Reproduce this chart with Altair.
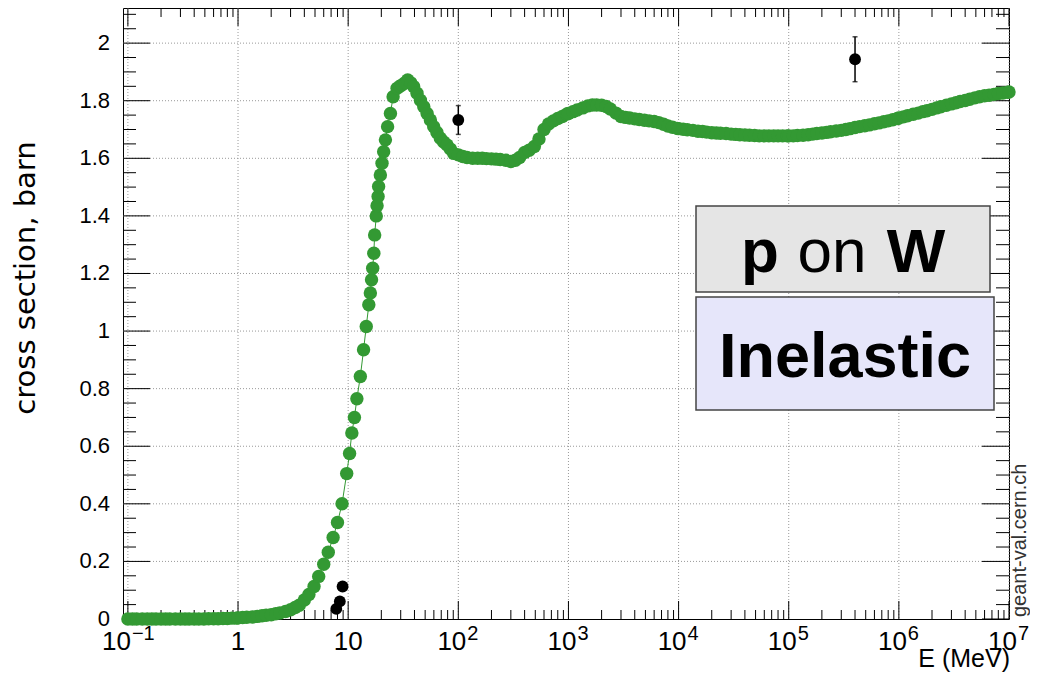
import altair as alt
import pandas as pd

# ---------------- data ----------------
# Geant4 model curve: energy (MeV) and inelastic cross section (barn)
g4_energy = [
    0.1, 0.11, 0.12, 0.135, 0.15, 0.165, 0.18, 0.2, 0.22, 0.24, 0.27, 0.3,
    0.33, 0.36, 0.4, 0.44, 0.49, 0.54, 0.6, 0.66, 0.73, 0.8, 0.88, 0.97,
    1.0, 1.1, 1.2, 1.35, 1.5, 1.65, 1.8, 2.0, 2.2, 2.4, 2.7, 3.0,
    3.3, 3.6, 4.0, 4.4, 4.9, 5.4, 6.0, 6.6, 7.3, 8.0, 8.8, 9.7,
    10.3, 10.8, 11.4, 12.0, 12.9, 13.8, 14.6, 15.4, 15.9, 16.3, 16.7, 17.1,
    17.4, 18.0, 18.3, 18.7, 18.9, 19.6, 20.3, 21.0, 21.8, 22.8, 24.2, 25.6,
    27.8, 29.5, 30.9, 32.8, 34.7, 37.0, 39.3, 42.2, 45.3, 48.6, 52.1, 55.8,
    59.8, 64.0, 68.7, 73.7, 79.1, 84.8, 90.9,
    100, 110, 120, 135, 150, 165, 180, 200, 220, 240, 270, 300,
    330, 360, 400, 440, 490, 540, 600, 660, 730, 800, 880, 970,
    1.0e3, 1.1e3, 1.2e3, 1.35e3, 1.5e3, 1.65e3, 1.8e3, 2.0e3, 2.2e3, 2.4e3, 2.7e3, 3.0e3,
    3.3e3, 3.6e3, 4.0e3, 4.4e3, 4.9e3, 5.4e3, 6.0e3, 6.6e3, 7.3e3, 8.0e3, 8.8e3, 9.7e3,
    1.0e4, 1.1e4, 1.2e4, 1.35e4, 1.5e4, 1.65e4, 1.8e4, 2.0e4, 2.2e4, 2.4e4, 2.7e4, 3.0e4,
    3.3e4, 3.6e4, 4.0e4, 4.4e4, 4.9e4, 5.4e4, 6.0e4, 6.6e4, 7.3e4, 8.0e4, 8.8e4, 9.7e4,
    1.0e5, 1.1e5, 1.2e5, 1.35e5, 1.5e5, 1.65e5, 1.8e5, 2.0e5, 2.2e5, 2.4e5, 2.7e5, 3.0e5,
    3.3e5, 3.6e5, 4.0e5, 4.4e5, 4.9e5, 5.4e5, 6.0e5, 6.6e5, 7.3e5, 8.0e5, 8.8e5, 9.7e5,
    1.0e6, 1.1e6, 1.2e6, 1.35e6, 1.5e6, 1.65e6, 1.8e6, 2.0e6, 2.2e6, 2.4e6, 2.7e6, 3.0e6,
    3.3e6, 3.6e6, 4.0e6, 4.4e6, 4.9e6, 5.4e6, 6.0e6, 6.6e6, 7.3e6, 8.0e6, 8.8e6, 9.7e6,
    1.0e7,
]
g4_xs = [
    0.0, 0.0, 0.0, 0.0, 0.0, 0.0, 0.0, 0.0, 0.0, 0.0, 0.0, 0.0,
    0.0, 0.0, 0.0, 0.0, 0.0, 0.001, 0.001, 0.001, 0.002, 0.002, 0.003, 0.003,
    0.004, 0.005, 0.006, 0.007, 0.009, 0.011, 0.013, 0.015, 0.018, 0.021, 0.026, 0.032,
    0.040, 0.048, 0.066, 0.085, 0.113, 0.148, 0.190, 0.232, 0.283, 0.335, 0.400, 0.505,
    0.575, 0.646, 0.700, 0.765, 0.842, 0.935, 1.016, 1.091, 1.132, 1.178, 1.218, 1.270,
    1.334, 1.400, 1.435, 1.467, 1.502, 1.542, 1.583, 1.623, 1.664, 1.710, 1.756, 1.814,
    1.843, 1.850, 1.855, 1.862, 1.872, 1.862, 1.849, 1.826, 1.802, 1.779, 1.756, 1.733,
    1.710, 1.690, 1.670, 1.657, 1.646, 1.632, 1.617,
    1.612, 1.606, 1.603, 1.600, 1.600, 1.600, 1.599, 1.598, 1.597, 1.596, 1.593, 1.589,
    1.593, 1.603, 1.620, 1.628, 1.641, 1.667, 1.700, 1.719, 1.730, 1.738, 1.745, 1.754,
    1.756, 1.762, 1.768, 1.775, 1.782, 1.785, 1.785, 1.784, 1.780, 1.771, 1.757, 1.745,
    1.742, 1.740, 1.737, 1.735, 1.732, 1.730, 1.728, 1.724, 1.718, 1.712, 1.708, 1.704,
    1.703, 1.701, 1.699, 1.697, 1.694, 1.693, 1.691, 1.689, 1.688, 1.687, 1.686, 1.684,
    1.683, 1.682, 1.681, 1.680, 1.679, 1.678, 1.678, 1.678, 1.678, 1.678, 1.678, 1.678,
    1.678, 1.678, 1.679, 1.680, 1.682, 1.684, 1.686, 1.688, 1.690, 1.692, 1.695, 1.697,
    1.700, 1.703, 1.707, 1.710, 1.713, 1.716, 1.720, 1.723, 1.727, 1.730, 1.734, 1.738,
    1.740, 1.744, 1.748, 1.753, 1.757, 1.762, 1.765, 1.770, 1.775, 1.779, 1.784, 1.789,
    1.793, 1.797, 1.801, 1.805, 1.810, 1.814, 1.817, 1.819, 1.822, 1.825, 1.827, 1.829,
    1.830,
]

# experimental points
exp_energy = [7.8, 8.4, 8.9, 100.0, 4.0e5]
exp_xs = [0.035, 0.061, 0.113, 1.733, 1.944]
exp_err = [0.003, 0.003, 0.003, 0.050, 0.078]

# axes
x_decades = [0.1, 1, 10, 100, 1e3, 1e4, 1e5, 1e6, 1e7]
x_minor = [m * d for d in [0.1, 1, 10, 100, 1e3, 1e4, 1e5, 1e6] for m in range(2, 10)]
y_major = [0.0, 0.2, 0.4, 0.6, 0.8, 1.0, 1.2, 1.4, 1.6, 1.8, 2.0]
y_major_labels = ["0", "0.2", "0.4", "0.6", "0.8", "1", "1.2", "1.4", "1.6", "1.8", "2"]
y_minor = [round(0.05 * i, 2) for i in range(0, 43) if i % 4 != 0]

x_plain_vals = [1, 10]
x_plain_labels = ["1", "10"]
x_pow_vals = [100, 1e3, 1e4, 1e5, 1e6, 1e7]
x_pow_exps = ["2", "3", "4", "5", "6", "7"]
x_neg_vals = [0.1]
x_neg_exps = ["\u22121"]

x_title = "E (MeV)"
y_title = "cross section, barn"
watermark = "geant-val.cern.ch"

# ---------------- layout constants ----------------
W, H = 886, 611
FONT = "Liberation Sans"
GREEN = "#339933"
XMIN, XMAX = 0.0903, 1.0e7
YMIN, YMAX = 0.0, 2.122

xs = alt.Scale(type="log", domain=[XMIN, XMAX], nice=False)
ys = alt.Scale(domain=[YMIN, YMAX], nice=False, zero=False)

g4 = pd.DataFrame({"E": g4_energy, "xs": g4_xs})
ex = pd.DataFrame({"E": exp_energy, "xs": exp_xs,
                   "lo": [a - b for a, b in zip(exp_xs, exp_err)],
                   "hi": [a + b for a, b in zip(exp_xs, exp_err)]})
dec = pd.DataFrame({"v": x_decades})
xmin_df = pd.DataFrame({"v": x_minor})
ymaj = pd.DataFrame({"v": y_major, "lab": y_major_labels})
ymin_df = pd.DataFrame({"v": y_minor})
one = pd.DataFrame({"a": [0]})

X = lambda: alt.X("v:Q", scale=xs, axis=None)
Y = lambda: alt.Y("v:Q", scale=ys, axis=None)

# grid
grid_x = alt.Chart(dec).mark_rule(color="#999999", strokeDash=[1, 2], strokeWidth=1).encode(
    x=X(), y=alt.value(0), y2=alt.value(H))
grid_y = alt.Chart(ymaj[ymaj.v > 0]).mark_rule(color="#999999", strokeDash=[1, 2], strokeWidth=1).encode(
    y=Y(), x=alt.value(0), x2=alt.value(W))

# ticks (inside the frame, on all four sides)
tk = dict(color="black", strokeWidth=1)
ticks = [
    alt.Chart(dec).mark_rule(**tk).encode(x=X(), y=alt.value(H), y2=alt.value(H - 18)),
    alt.Chart(dec).mark_rule(**tk).encode(x=X(), y=alt.value(0), y2=alt.value(18)),
    alt.Chart(xmin_df).mark_rule(**tk).encode(x=X(), y=alt.value(H), y2=alt.value(H - 9)),
    alt.Chart(xmin_df).mark_rule(**tk).encode(x=X(), y=alt.value(0), y2=alt.value(9)),
    alt.Chart(ymaj).mark_rule(**tk).encode(y=Y(), x=alt.value(0), x2=alt.value(27)),
    alt.Chart(ymaj).mark_rule(**tk).encode(y=Y(), x=alt.value(W), x2=alt.value(W - 27)),
    alt.Chart(ymin_df).mark_rule(**tk).encode(y=Y(), x=alt.value(0), x2=alt.value(13)),
    alt.Chart(ymin_df).mark_rule(**tk).encode(y=Y(), x=alt.value(W), x2=alt.value(W - 13)),
]

# curve
g4_line = alt.Chart(g4).mark_line(color=GREEN, strokeWidth=1).encode(
    x=alt.X("E:Q", scale=xs, axis=None), y=alt.Y("xs:Q", scale=ys, axis=None))
g4_pts = alt.Chart(g4).mark_circle(color=GREEN, opacity=1, size=180).encode(
    x=alt.X("E:Q", scale=xs, axis=None), y=alt.Y("xs:Q", scale=ys, axis=None))

# experimental data
err = alt.Chart(ex).mark_rule(color="black", strokeWidth=1.5).encode(
    x=alt.X("E:Q", scale=xs, axis=None), y=alt.Y("lo:Q", scale=ys, axis=None), y2="hi:Q")
cap_hi = alt.Chart(ex).mark_tick(color="black", size=5, thickness=1.5, orient="horizontal").encode(
    x=alt.X("E:Q", scale=xs, axis=None), y=alt.Y("hi:Q", scale=ys, axis=None))
cap_lo = alt.Chart(ex).mark_tick(color="black", size=5, thickness=1.5, orient="horizontal").encode(
    x=alt.X("E:Q", scale=xs, axis=None), y=alt.Y("lo:Q", scale=ys, axis=None))
ex_pts = alt.Chart(ex).mark_circle(color="black", opacity=1, size=140).encode(
    x=alt.X("E:Q", scale=xs, axis=None), y=alt.Y("xs:Q", scale=ys, axis=None))

# tick labels
ylab = alt.Chart(ymaj).mark_text(align="right", baseline="middle", font=FONT, fontSize=22,
                                 color="black").encode(y=Y(), x=alt.value(-13), text="lab:N")
xp = pd.DataFrame({"v": x_plain_vals, "lab": x_plain_labels})
xpow = pd.DataFrame({"v": x_pow_vals, "e": x_pow_exps})
xneg = pd.DataFrame({"v": x_neg_vals, "e": x_neg_exps})
XF, EF = 26, 20
LB = H + 31  # label baseline
xlab_plain = alt.Chart(xp).mark_text(align="center", baseline="alphabetic", font=FONT, fontSize=XF,
                                      color="black").encode(x=X(), y=alt.value(LB), text="lab:N")
xlab_pow_base = alt.Chart(xpow).mark_text(align="right", baseline="alphabetic", font=FONT, fontSize=XF,
                                          dx=8, color="black", text="10").encode(x=X(), y=alt.value(LB))
xlab_pow_exp = alt.Chart(xpow).mark_text(align="left", baseline="alphabetic", font=FONT, fontSize=EF,
                                         dx=9, color="black").encode(x=X(), y=alt.value(LB - 10), text="e:N")
xlab_neg_base = alt.Chart(xneg).mark_text(align="right", baseline="alphabetic", font=FONT, fontSize=XF,
                                          dx=3, color="black", text="10").encode(x=X(), y=alt.value(LB))
xlab_neg_exp = alt.Chart(xneg).mark_text(align="left", baseline="alphabetic", font=FONT, fontSize=EF,
                                         dx=4, color="black").encode(x=X(), y=alt.value(LB - 10), text="e:N")

# titles
xt = alt.Chart(one).mark_text(align="right", baseline="alphabetic", font=FONT, fontSize=25,
                              color="black", text=x_title).encode(x=alt.value(887), y=alt.value(H + 48))
yt = alt.Chart(one).mark_text(align="center", baseline="alphabetic", font="DejaVu Sans", fontSize=29,
                              angle=270, color="black", text=y_title).encode(
    x=alt.value(-88), y=alt.value(270))
wm = alt.Chart(one).mark_text(align="left", baseline="middle", font=FONT, fontSize=20, angle=270,
                              color="#333333", text=watermark).encode(x=alt.value(897), y=alt.value(609))

# legend boxes
box1 = alt.Chart(one).mark_rect(fill="#e5e5e5", stroke="#444444", strokeWidth=1.5).encode(
    x=alt.value(573), x2=alt.value(867), y=alt.value(198), y2=alt.value(284))
box2 = alt.Chart(one).mark_rect(fill="#e6e6fa", stroke="#444444", strokeWidth=1.5).encode(
    x=alt.value(573), x2=alt.value(871), y=alt.value(289), y2=alt.value(402))
t_p = alt.Chart(one).mark_text(align="center", baseline="alphabetic", font=FONT, fontSize=62,
                               fontWeight="bold", color="black", text="p").encode(
    x=alt.value(637), y=alt.value(264))
t_on = alt.Chart(one).mark_text(align="center", baseline="alphabetic", font=FONT, fontSize=62,
                                color="black", text="on").encode(x=alt.value(709), y=alt.value(264))
t_w = alt.Chart(one).mark_text(align="center", baseline="alphabetic", font=FONT, fontSize=62,
                               fontWeight="bold", color="black", text="W").encode(
    x=alt.value(793), y=alt.value(264))
t_inel = alt.Chart(one).mark_text(align="center", baseline="alphabetic", font=FONT, fontSize=63,
                                  fontWeight="bold", color="black", text="Inelastic").encode(
    x=alt.value(722), y=alt.value(369))

chart = alt.layer(
    grid_x, grid_y, *ticks, g4_line, g4_pts, err, cap_hi, cap_lo, ex_pts,
    ylab, xlab_plain, xlab_pow_base, xlab_pow_exp, xlab_neg_base, xlab_neg_exp,
    xt, yt, wm, box1, box2, t_p, t_on, t_w, t_inel,
).properties(
    width=W, height=H,
    padding={"left": 115, "top": 0, "right": 21, "bottom": 53},
    autosize=alt.AutoSizeParams(type="none"),
    background="white",
).configure_view(stroke="black", strokeWidth=1)

chart.save("out.html", embed_options={"renderer": "svg", "actions": False})
